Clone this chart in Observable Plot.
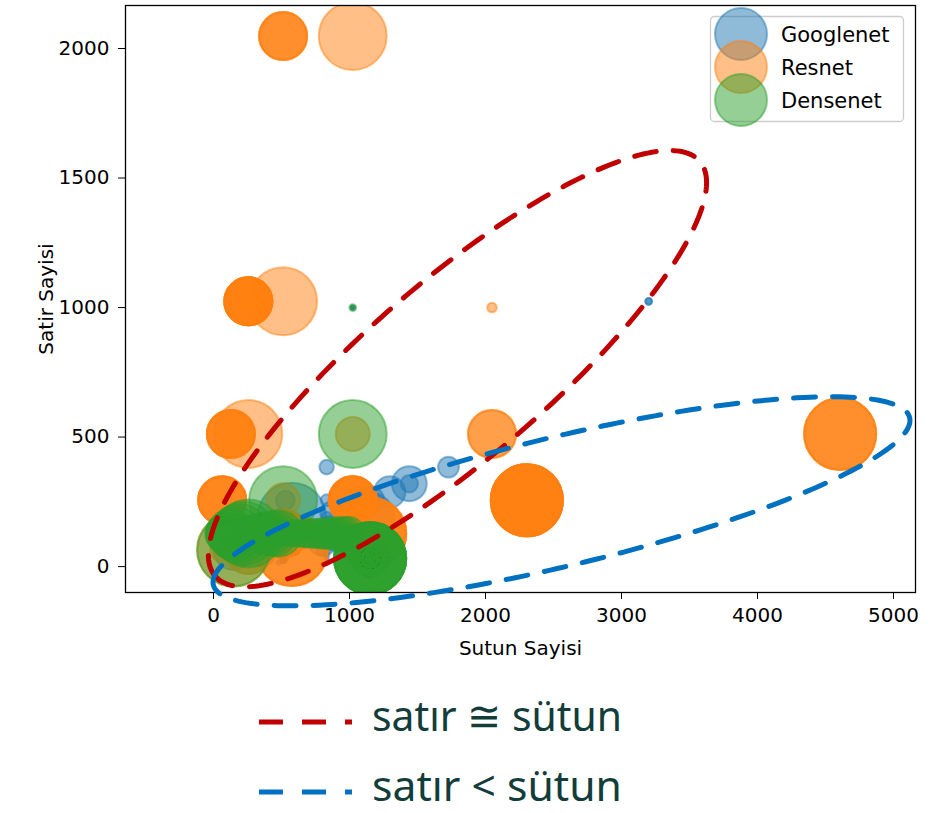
<!DOCTYPE html>
<html><head><meta charset="utf-8">
<script src="https://cdn.jsdelivr.net/npm/d3@7"></script>
<script src="https://cdn.jsdelivr.net/npm/@observablehq/plot@0.6"></script>
<style>
body{margin:0;background:#fff;}
#wrap{position:relative;width:938px;height:813px;overflow:hidden;background:#fff;}
#wrap svg{display:block;}
.overlay{position:absolute;left:0;top:0;pointer-events:none;}
</style></head><body><div id="wrap"></div>
<script>
// ---------- data ----------
const seriesNames = ["Googlenet", "Resnet", "Densenet"];
const seriesColors = ["#1f77b4", "#ff7f0e", "#2ca02c"];
const xTicks = [0, 1000, 2000, 3000, 4000, 5000];
const yTicks = [0, 500, 1000, 1500, 2000];

// Googlenet layers: GEMM columns (Sutun), rows (Satir), MACs (millions), repeat count
const googlenetCols = [147,64,576, 192,192,864,192,400,192, 256,1152,256,800,256, 480,480,864,480,400,480, 512,512,1008,512,600,512, 512,1152,512,600,512, 512,512,1296,512,800,512, 528,528,1440,528,800,528, 832,832,1440,832,800,832, 832,832,1728,832,1200,832, 512,528,3200,1024];
const googlenetRows = [64,64,192, 64,96,128,16,32,32, 128,192,32,96,64, 192,96,208,16,48,64, 160,112,224,24,64,64, 128,256,24,64,64, 112,144,288,32,64,64, 256,160,320,32,128,128, 256,160,320,32,128,128, 384,192,384,48,128,128, 128,128,1024,1000];
const googlenetMacs = [118.0,12.85,346.8, 9.63,14.45,86.7,2.41,10.04,4.82, 25.69,173.4,6.42,60.2,12.85, 18.06,9.03,35.2,1.51,3.76,6.02, 16.06,11.24,44.26,2.41,7.53,6.42, 12.85,57.8,2.41,7.53,6.42, 11.24,14.45,73.2,3.21,10.04,6.42, 26.5,16.56,90.3,3.31,20.07,13.25, 10.44,6.52,22.58,1.30,5.02,5.22, 15.65,7.83,32.5,1.96,7.53,5.22, 1.05,1.08,3.28,1.02];
const googlenetCount = [1,1,1, 1,1,1,1,1,1, 2,1,1,1,1, 1,1,1,1,1,1, 1,1,1,1,1,1, 2,1,1,1,1, 1,1,1,1,1,1, 1,1,1,1,1,1, 1,1,1,1,1,1, 1,1,1,1,1,1, 1,1,2,3];
const googlenetSizeScale = 0.3; // googlenet bubbles are drawn smaller in the source chart

// Resnet layers
const resnetCols = [147,64,576,64,256,256,1152,128,256,512,512,2304,256,512,1024,1024,4608,512,1024,2048,2048];
const resnetRows = [64,64,64,256,64,128,128,512,512,128,256,256,1024,1024,256,512,512,2048,2048,512,1000];
const resnetMacs = [118.0,12.85,115.6,51.4,51.4,25.7,115.6,51.4,102.8,51.4,25.7,115.6,51.4,102.8,51.4,25.7,115.6,51.4,102.8,51.4,2.05];
const resnetCount = [1,1,3,4,2,1,4,4,1,3,1,6,6,1,5,1,3,3,1,2,1];

// Densenet layers
const densenetCols = [147,
  64,96,128,160,192,224, 1152, 256,
  128,160,192,224,256,288,320,352,384,416,448,480, 1152, 512,
  256,288,320,352,384,416,448,480,512,544,576,608,640,672,704,736,768,800,832,864,896,928,960,992, 1152, 1024,
  512,544,576,608,640,672,704,736,768,800,832,864,896,928,960,992, 1152, 1024];
const densenetRows = [64,
  128,128,128,128,128,128, 32, 128,
  128,128,128,128,128,128,128,128,128,128,128,128, 32, 256,
  128,128,128,128,128,128,128,128,128,128,128,128,128,128,128,128,128,128,128,128,128,128,128,128, 32, 512,
  128,128,128,128,128,128,128,128,128,128,128,128,128,128,128,128, 32, 1000];
const densenetMacs = [118.0,
  25.7,38.5,51.4,64.2,77.1,89.9, 115.6, 102.8,
  12.8,16.1,19.3,22.5,25.7,28.9,32.1,35.3,38.5,41.7,45.0,48.2, 28.9, 102.8,
  6.42,7.23,8.03,8.83,9.63,10.44,11.24,12.04,12.85,13.65,14.45,15.25,16.06,16.86,17.66,18.46,19.27,20.07,20.87,21.68,22.48,23.28,24.08,24.89, 7.23, 102.8,
  3.21,3.41,3.61,3.81,4.01,4.21,4.42,4.62,4.82,5.02,5.22,5.42,5.62,5.82,6.02,6.22, 1.81, 1.02];
const densenetCount = [1,
  1,1,1,1,1,1, 6, 1,
  1,1,1,1,1,1,1,1,1,1,1,1, 12, 1,
  1,1,1,1,1,1,1,1,1,1,1,1,1,1,1,1,1,1,1,1,1,1,1,1, 24, 1,
  1,1,1,1,1,1,1,1,1,1,1,1,1,1,1,1, 16, 1];

// annotation ellipses (data units): center, two conjugate semi-axis vectors
const redEllipse = {cx: 1794, cy: 764, ax: 1783, ay: 800, bx: 420, by: -263};
const blueEllipse = {cx: 2559, cy: 252, ax: 2560, ay: 323, bx: 111, by: -242};

const legendLines = [
  {label: "satır ≅ sütun", color: "#c00000"},
  {label: "satır < sütun", color: "#0070c0"}
];

// ---------- build tables ----------
function expand(name, cols, rows, macs, count, scale) {
  const out = [];
  cols.forEach((c, i) => {
    for (let k = 0; k < count[i]; k++) out.push({series: name, cols: c, rows: rows[i], size: macs[i] * scale});
  });
  return out;
}
const tables = [
  expand("Googlenet", googlenetCols, googlenetRows, googlenetMacs, googlenetCount, googlenetSizeScale),
  expand("Resnet", resnetCols, resnetRows, resnetMacs, resnetCount, 1),
  expand("Densenet", densenetCols, densenetRows, densenetMacs, densenetCount, 1)
];
function ellipsePts(e) {
  const pts = [];
  for (let i = 0; i <= 240; i++) {
    const t = (i / 240) * 2 * Math.PI + Math.PI;
    pts.push({x: e.cx + e.ax * Math.cos(t) + e.bx * Math.sin(t), y: e.cy + e.ay * Math.cos(t) + e.by * Math.sin(t)});
  }
  return pts;
}

const W = 938, H = 672;
const chart = Plot.plot({
  width: W, height: H,
  marginLeft: 125, marginRight: 23, marginTop: 5, marginBottom: 80,
  x: {domain: [-647, 5162]},
  y: {domain: [-100, 2166]},
  r: {type: "sqrt", domain: [0, 100], range: [0, 33.5]},
  style: {fontFamily: "DejaVu Sans", fontSize: "20px", color: "black", background: "white", overflow: "visible"},
  marks: [
    ...tables.map((t, i) => Plot.dot(t, {
      x: "cols", y: "rows", r: "size", clip: true,
      fill: seriesColors[i], fillOpacity: 0.5,
      stroke: seriesColors[i], strokeOpacity: 0.5, strokeWidth: 2
    })),
    Plot.frame({stroke: "black", strokeWidth: 1.3}),
    Plot.axisX({ticks: xTicks, tickFormat: "d", tickSize: 7, tickPadding: 8, label: "Sutun Sayisi", labelAnchor: "center", labelArrow: "none", labelOffset: 62}),
    Plot.axisY({ticks: yTicks, tickFormat: "d", tickSize: 7, tickPadding: 9, label: "Satir Sayisi", labelAnchor: "center", labelArrow: "none", labelOffset: 87}),
    Plot.line(ellipsePts(redEllipse), {x: "x", y: "y", stroke: "#c00000", strokeWidth: 5, strokeDasharray: "22,17"}),
    Plot.line(ellipsePts(blueEllipse), {x: "x", y: "y", stroke: "#0070c0", strokeWidth: 5, strokeDasharray: "22,17"})
  ]
});
const wrap = document.getElementById("wrap");
wrap.appendChild(chart);

// in-plot legend overlay
const ov = d3.select(wrap).append("svg").attr("class", "overlay").attr("width", W).attr("height", H)
  .style("font-family", "DejaVu Sans").style("font-size", "21px");
ov.append("rect").attr("x", 710.5).attr("y", 16.5).attr("width", 193).attr("height", 105).attr("rx", 4)
  .attr("fill", "white").attr("fill-opacity", 0.8).attr("stroke", "#cccccc").attr("stroke-width", 1.3);
seriesNames.forEach((s, i) => {
  const cy = 34 + i * 33;
  ov.append("circle").attr("cx", 741).attr("cy", cy).attr("r", 26)
    .attr("fill", seriesColors[i]).attr("fill-opacity", 0.5)
    .attr("stroke", seriesColors[i]).attr("stroke-opacity", 0.5).attr("stroke-width", 2);
  ov.append("text").attr("x", 781).attr("y", cy).attr("dy", "0.36em").attr("fill", "black").text(s);
});

// bottom legend for annotation ellipses
const lg = d3.select(wrap).append("svg").attr("width", W).attr("height", 813 - H)
  .style("font-family", "'Noto Sans'").style("font-size", "42px");
legendLines.forEach((l, i) => {
  const cy = 50 + i * 70;
  lg.append("line").attr("x1", 259).attr("x2", 352).attr("y1", cy).attr("y2", cy)
    .attr("stroke", l.color).attr("stroke-width", 5).attr("stroke-dasharray", "24,19");
  lg.append("text").attr("x", 372).attr("y", cy + 9).attr("fill", "#123d3a")
    .attr("textLength", 250).attr("lengthAdjust", "spacingAndGlyphs").text(l.label);
});
</script></body></html>
